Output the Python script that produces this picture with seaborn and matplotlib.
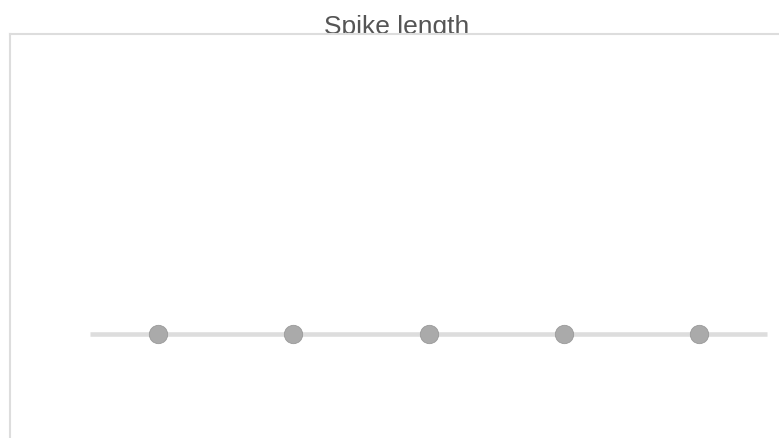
import pandas as pd
import seaborn as sns
import matplotlib.pyplot as plt

# Data
positions = [1, 2, 3, 4, 5]
spike_length = [0, 0, 0, 0, 0]
title = "Spike length"

df = pd.DataFrame({"position": positions, "value": spike_length})

sns.set_theme(style="white")
plt.rcParams['font.family'] = ['Liberation Sans', 'DejaVu Sans']

fig = plt.figure(figsize=(7.79, 4.39), dpi=100)
W, H = 779, 439
ax = fig.add_axes([10 / W, 0, 769 / W, (H - 35) / H])

# Baseline track running half a step past the first and last dots
x0 = min(positions) - 0.5
x1 = max(positions) + 0.5
ax.plot([x0, x1], [spike_length[0], spike_length[-1]], color='#dddddd',
        linewidth=3.3, solid_capstyle='butt', zorder=1)

sns.scatterplot(data=df, x="position", y="value", ax=ax, s=175,
                color='#aaaaaa', edgecolor='#9a9a9a', linewidth=0.6, zorder=2)

# Scale so the dots sit where they do in the reference
step = 135.25
xmin = positions[0] - (158 - 10) / step
ax.set_xlim(xmin, xmin + 769 / step)
ax.set_ylim(-0.258, 0.742)

ax.set_xlabel("")
ax.set_ylabel("")
ax.set_xticks([])
ax.set_yticks([])
for side in ['right', 'bottom']:
    ax.spines[side].set_visible(False)
for side in ['left', 'top']:
    ax.spines[side].set_color('#dddddd')
    ax.spines[side].set_linewidth(1.5)

# Title sits behind the frame line, as in the original
fig.text(397 / W, 1 - 34 / H, title, ha='center', va='baseline',
         fontsize=19, color='#555555', zorder=-1)

fig.savefig("out.png", dpi=100)
